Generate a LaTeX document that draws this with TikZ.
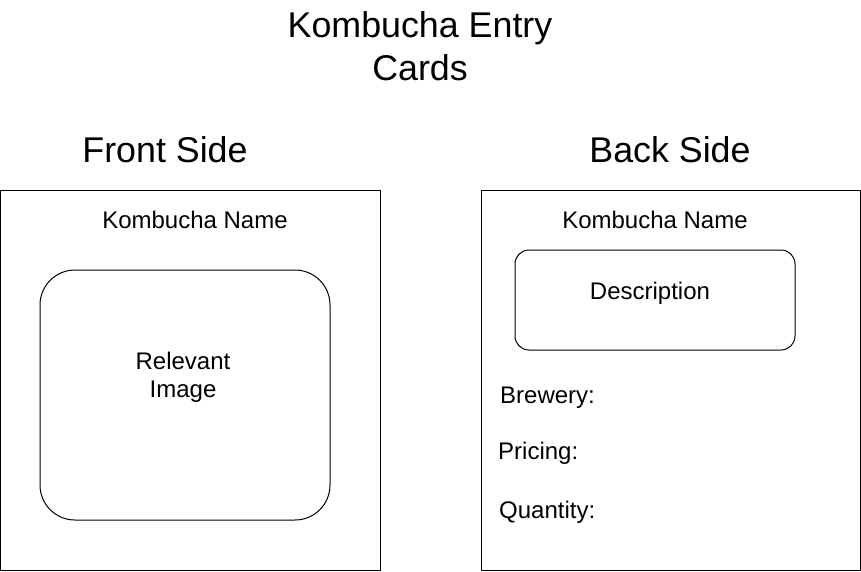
\documentclass[tikz,border=0pt]{standalone}
\usepackage{fontspec}
\setmainfont{Liberation Sans}
\begin{document}
\begin{tikzpicture}[x=1pt,y=-1pt,
  box/.style={draw=black,line width=1pt,inner sep=0pt},
  big/.style={font=\fontsize{35.8}{42}\selectfont,anchor=base,inner sep=0pt},
  lbl/.style={font=\fontsize{24}{28}\selectfont,anchor=base,inner sep=0pt},
  lbll/.style={font=\fontsize{24}{28}\selectfont,anchor=base west,inner sep=0pt}]
\useasboundingbox (0,0) rectangle (861,571);
% cards
\node[box,minimum width=380pt,minimum height=380pt] (front) at (190.5,380.5) {};
\node[box,minimum width=379pt,minimum height=380pt] (back) at (670.5,380.5) {};
% inner rounded boxes
\node[box,rounded corners=35pt,minimum width=290pt,minimum height=250pt] (img) at (185,395) {};
\node[box,rounded corners=14pt,minimum width=280pt,minimum height=100pt] (desc) at (655,300) {};
% texts
\node[big] (t1) at (420,37) {Kombucha Entry};
\node[big] (t2) at (420,80) {Cards};
\node[big] (fs) at (165,162) {Front Side};
\node[big] (bs) at (670,162) {Back Side};
\node[lbl] (fn) at (195,228) {Kombucha Name};
\node[lbl] (bn) at (655,228) {Kombucha Name};
\node[lbl] (r1) at (183,369) {Relevant};
\node[lbl] (r2) at (183,397) {Image};
\node[lbl] (dt) at (650,299) {Description};
\node[lbll] (bw) at (500,403) {Brewery:};
\node[lbll] (pr) at (498,459) {Pricing:};
\node[lbll] (qt) at (499,518) {Quantity:};
\end{tikzpicture}
\end{document}
